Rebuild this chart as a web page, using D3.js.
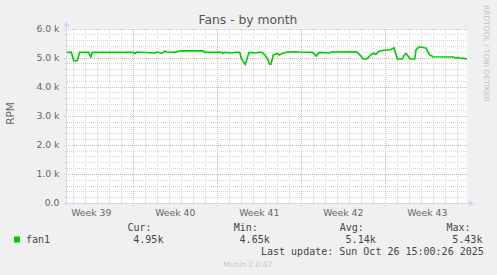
<!DOCTYPE html>
<html lang="en">
<head>
<meta charset="UTF-8">
<title>Fans - by month</title>
<script src="https://d3js.org/d3.v7.min.js"></script>
<style>
  html, body { margin: 0; padding: 0; background: #f0f0f0; }
  svg { display: block; }
  text { font-family: "DejaVu Sans", sans-serif; }
  .mono { font-family: "DejaVu Sans Mono", monospace; }
</style>
</head>
<body>
<div id="chart"></div>
<script>
// graph window (33 days + a bit, as munin draws it)
const rangeStart = new Date(2025, 8, 23, 11, 24);
const rangeEnd = new Date(2025, 9, 26, 19, 24);

// samples: days since rangeStart, and rpm
const sampleDays = [0, 0.36, 0.56, 0.86, 1.06, 1.81, 1.98, 2.11, 5.5, 5.67,
  5.83, 7.33, 7.5, 7.89, 8.0, 8.17, 8.33, 9.0, 9.25, 9.56,
  11.33, 11.5, 12.92, 13.0, 13.17, 13.83, 14.0, 14.39, 14.53, 14.69,
  14.86, 15.17, 15.75, 15.92, 16.25, 16.48, 16.75, 16.88, 17.0, 17.19,
  17.42, 17.56, 17.69, 17.98, 18.25, 18.81, 19.33, 20.48, 20.75, 21.03,
  21.83, 22.0, 24.14, 24.48, 24.69, 24.98, 25.36, 25.58, 25.73, 26.0,
  26.42, 26.98, 27.25, 27.53, 27.94, 28.06, 28.25, 28.61, 28.98, 29.08,
  29.25, 29.44, 29.73, 29.92, 30.19, 30.48, 32.22, 32.36, 32.64, 32.78,
  33.0, 33.33];
const fanRpm = [5180, 5180, 4890, 4890, 5180, 5180, 5020, 5180, 5180, 5140,
  5190, 5160, 5190, 5150, 5180, 5220, 5190, 5180, 5220, 5230,
  5230, 5180, 5180, 5150, 5180, 5160, 5180, 5180, 4970, 4860,
  4770, 5180, 5160, 5180, 5180, 5100, 4910, 4770, 4770, 5090,
  5120, 5140, 5090, 5150, 5180, 5200, 5190, 5180, 5050, 5180,
  5160, 5190, 5200, 5060, 4950, 4950, 5110, 5150, 5110, 5220,
  5250, 5270, 5340, 4950, 4950, 5060, 5140, 4950, 4950, 5260,
  5340, 5370, 5340, 5330, 5110, 5030, 5020, 4990, 5000, 4970,
  4980, 4950];

const yTicks = [0, 1000, 2000, 3000, 4000, 5000, 6000];
const legendHeads = ["Cur:", "Min:", "Avg:", "Max:"];
const legendValues = ["4.95k", "4.65k", "5.14k", "5.43k"];
const lastUpdate = "Last update: Sun Oct 26 15:00:26 2025";

const width = 497, height = 275;
const plotLeft = 67, plotRight = 467, plotTop = 28.5, plotBottom = 203;

const svg = d3.select("#chart").append("svg")
    .attr("width", width)
    .attr("height", height);

svg.append("rect").attr("width", width).attr("height", height).attr("fill", "#f0f0f0");

const x = d3.scaleTime().domain([rangeStart, rangeEnd]).range([plotLeft, plotRight]);
const y = d3.scaleLinear().domain([0, 6000]).range([plotBottom, plotTop]);

// canvas
svg.append("rect")
    .attr("x", plotLeft).attr("y", plotTop)
    .attr("width", plotRight - plotLeft).attr("height", plotBottom - plotTop)
    .attr("fill", "#ffffff");

// minor grid
const minorColor = "#d6d6d6", majorColor = "#ecb4b4";
const days = d3.timeDay.range(d3.timeDay.ceil(rangeStart), rangeEnd);
const mondays = d3.timeMonday.range(d3.timeMonday.ceil(rangeStart), rangeEnd);
const mondayTimes = mondays.map(d => +d);
const minorDays = days.filter(d => !mondayTimes.includes(+d));

svg.append("g").selectAll("line")
    .data(minorDays)
    .join("line")
    .attr("x1", d => Math.round(x(d)) + 0.5).attr("x2", d => Math.round(x(d)) + 0.5)
    .attr("y1", plotBottom + 2).attr("y2", plotTop)
    .attr("stroke", minorColor).attr("stroke-dasharray", "1,1");

const minorY = d3.range(200, 6001, 200).filter(v => v % 1000 !== 0);
svg.append("g").selectAll("line")
    .data(minorY)
    .join("line")
    .attr("x1", plotLeft - 2).attr("x2", plotRight)
    .attr("y1", d => Math.round(y(d)) + 0.5).attr("y2", d => Math.round(y(d)) + 0.5)
    .attr("stroke", minorColor).attr("stroke-dasharray", "1,1");

// major grid
svg.append("g").selectAll("line")
    .data(mondays)
    .join("line")
    .attr("x1", d => Math.round(x(d)) + 0.5).attr("x2", d => Math.round(x(d)) + 0.5)
    .attr("y1", plotBottom + 3).attr("y2", plotTop)
    .attr("stroke", majorColor).attr("stroke-dasharray", "1,1");

svg.append("g").selectAll("line")
    .data(yTicks.filter(v => v > 0))
    .join("line")
    .attr("x1", plotLeft - 3).attr("x2", plotRight)
    .attr("y1", d => Math.round(y(d)) + 0.5).attr("y2", d => Math.round(y(d)) + 0.5)
    .attr("stroke", majorColor).attr("stroke-dasharray", "1,1");

// axes with arrows
const axisColor = "#cfd6f8";
svg.append("line")
    .attr("x1", plotLeft - 0.5).attr("x2", plotLeft - 0.5)
    .attr("y1", plotBottom + 3).attr("y2", plotTop - 3)
    .attr("stroke", axisColor);
svg.append("path")
    .attr("d", `M${plotLeft - 3.5},${plotTop - 2} L${plotLeft + 2.5},${plotTop - 2} L${plotLeft - 0.5},${plotTop - 7} Z`)
    .attr("fill", axisColor);
svg.append("line")
    .attr("x1", plotLeft - 3).attr("x2", plotRight + 3)
    .attr("y1", plotBottom + 0.5).attr("y2", plotBottom + 0.5)
    .attr("stroke", axisColor);
svg.append("path")
    .attr("d", `M${plotRight + 2},${plotBottom - 2.5} L${plotRight + 2},${plotBottom + 3.5} L${plotRight + 7},${plotBottom + 0.5} Z`)
    .attr("fill", axisColor);

// y labels
svg.append("g").selectAll("text")
    .data(yTicks)
    .join("text")
    .attr("x", 59.5)
    .attr("y", d => y(d) + 3.3)
    .attr("text-anchor", "end")
    .attr("font-size", 9.3)
    .attr("fill", "#666")
    .text(d => d === 0 ? "0.0" : d3.format(".1f")(d / 1000) + " k");

// week labels, centred mid-week
const weekStarts = d3.timeMonday.range(d3.timeMonday.floor(rangeStart), rangeEnd)
    .filter(d => d3.timeHour.offset(d, 84) >= rangeStart && d3.timeHour.offset(d, 84) <= rangeEnd);
svg.append("g").selectAll("text")
    .data(weekStarts)
    .join("text")
    .attr("x", d => x(d3.timeHour.offset(d, 84)))
    .attr("y", 216)
    .attr("text-anchor", "middle")
    .attr("font-size", 9.3)
    .attr("fill", "#666")
    .text(d => "Week " + d3.timeFormat("%V")(d));

// the fan line
const line = d3.line()
    .x((d, i) => x(new Date(+rangeStart + sampleDays[i] * 86400000)))
    .y(d => y(d));
svg.append("path")
    .datum(fanRpm)
    .attr("d", line)
    .attr("fill", "none")
    .attr("stroke", "#00cc00")
    .attr("stroke-width", 1.6);

// titles
svg.append("text")
    .attr("x", 248).attr("y", 24)
    .attr("text-anchor", "middle")
    .attr("font-size", 12.3)
    .attr("fill", "#555")
    .text("Fans - by month");

svg.append("text")
    .attr("transform", "translate(14,113.5) rotate(-90)")
    .attr("text-anchor", "middle")
    .attr("font-size", 10.5)
    .attr("fill", "#666")
    .text("RPM");

svg.append("text")
    .attr("transform", "translate(484.3,5) rotate(90)")
    .attr("font-size", 7.5)
    .attr("fill", "#c4c4c4")
    .text("RRDTOOL / TOBI OETIKER");

// legend
svg.append("rect")
    .attr("x", 14).attr("y", 236.5)
    .attr("width", 6).attr("height", 6)
    .attr("fill", "#00cc00");
svg.append("text").attr("class", "mono")
    .attr("x", 26).attr("y", 242.7)
    .attr("font-size", 10).attr("fill", "#444")
    .text("fan1");

const headX = [127.5, 233.8, 339.8, 446.5];
svg.append("g").selectAll("text")
    .data(legendHeads)
    .join("text").attr("class", "mono")
    .attr("x", (d, i) => headX[i]).attr("y", 231)
    .attr("font-size", 10).attr("fill", "#444")
    .text(d => d);
svg.append("g").selectAll("text")
    .data(legendValues)
    .join("text").attr("class", "mono")
    .attr("x", (d, i) => headX[i] + 5.8).attr("y", 242.7)
    .attr("font-size", 10).attr("fill", "#444")
    .text(d => d);

svg.append("text").attr("class", "mono")
    .attr("x", 261).attr("y", 254.5)
    .attr("font-size", 10).attr("fill", "#444")
    .text(lastUpdate);

svg.append("text")
    .attr("x", 247.7).attr("y", 266.5)
    .attr("text-anchor", "middle")
    .attr("font-size", 7.5)
    .attr("fill", "#c8c8c8")
    .text("Munin 2.0.67");
</script>
</body>
</html>
